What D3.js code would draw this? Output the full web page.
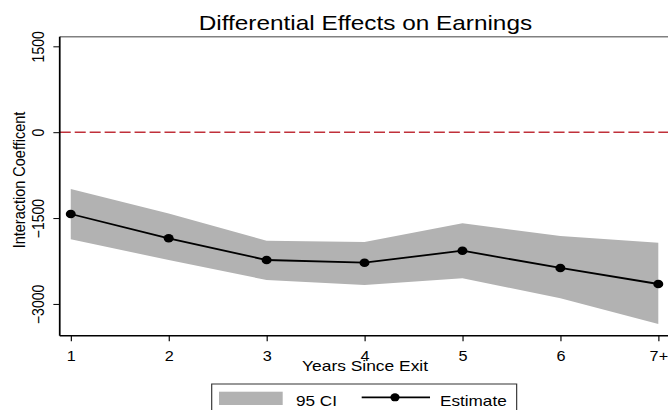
<!DOCTYPE html>
<html>
<head>
<meta charset="utf-8">
<script src="https://cdn.jsdelivr.net/npm/d3@7"></script>
<style>
  body { margin: 0; background: #fff; }
  text { font-family: "Liberation Sans", Arial, sans-serif; fill: #000; }
</style>
</head>
<body>
<script>
// data
const years = ["1", "2", "3", "4", "5", "6", "7+"];
const estimate = [-1429, -1853, -2233, -2280, -2070, -2372, -2652];
const ciUpper = [-992, -1420, -1895, -1918, -1592, -1813, -1930];
const ciLower = [-1871, -2233, -2582, -2669, -2552, -2902, -3351];
const yTicks = [1500, 0, -1500, -3000];

const width = 668, height = 410;
// the original picture is stretched sideways, so draw in narrower units and scale
const sx = 1.16;

const svg = d3.select("body").append("svg")
    .attr("width", width)
    .attr("height", height);

const g = svg.append("g").attr("transform", `scale(${sx},1)`);

const x = d3.scalePoint().domain(years).range([61, 567.5]);
const y = d3.scaleLinear().domain([-3555, 1668]).range([335.7, 36.7]);

const axisX = 51.5, right = width / sx;

// CI band
const rows = years.map((d, i) => ({ year: d, est: estimate[i], lo: ciLower[i], hi: ciUpper[i] }));
g.append("path")
    .datum(rows)
    .attr("fill", "#b2b2b2")
    .attr("d", d3.area().x(d => x(d.year)).y0(d => y(d.lo)).y1(d => y(d.hi)));

// zero line
g.append("line")
    .attr("x1", axisX).attr("x2", right)
    .attr("y1", y(0)).attr("y2", y(0))
    .attr("stroke", "#c0303a")
    .attr("stroke-width", 1.5)
    .attr("stroke-dasharray", "9.5,3.4");

// estimate line + markers
g.append("path")
    .datum(rows)
    .attr("fill", "none")
    .attr("stroke", "#000")
    .attr("stroke-width", 1.8)
    .attr("d", d3.line().x(d => x(d.year)).y(d => y(d.est)));

g.selectAll(".pt")
    .data(rows)
    .enter().append("circle")
    .attr("class", "pt")
    .attr("cx", d => x(d.year))
    .attr("cy", d => y(d.est))
    .attr("r", 4.3)
    .attr("fill", "#000");

// frame: grey top border, black left and bottom axis
g.append("line")
    .attr("x1", axisX).attr("x2", right)
    .attr("y1", y.range()[1]).attr("y2", y.range()[1])
    .attr("stroke", "#808080").attr("stroke-width", 1.5);

// y axis
const yAxis = g.append("g")
    .attr("transform", `translate(${axisX},0)`)
    .call(d3.axisLeft(y).tickValues(yTicks).tickSize(5.5).tickSizeOuter(0).tickFormat(d3.format("d")));
yAxis.select(".domain").attr("stroke", "#000").attr("stroke-width", 1.5)
    .attr("d", `M0,${y.range()[1]}V${y.range()[0]}`);
yAxis.selectAll(".tick line").attr("stroke", "#000").attr("stroke-width", 1);
yAxis.selectAll(".tick text")
    .attr("x", null).attr("dy", null)
    .attr("transform", "translate(-14,0) rotate(-90)")
    .attr("text-anchor", "middle")
    .attr("y", 0)
    .style("font-size", "14px")
    .style("font-family", "'Liberation Sans', Arial, sans-serif");

// x axis
const xAxis = g.append("g")
    .attr("transform", `translate(0,${y.range()[0]})`)
    .call(d3.axisBottom(x).tickSize(5.5).tickSizeOuter(0));
xAxis.select(".domain").attr("stroke", "#000").attr("stroke-width", 1.5)
    .attr("d", `M${axisX},0H${right}`);
xAxis.selectAll(".tick line").attr("stroke", "#000").attr("stroke-width", 1);
xAxis.selectAll(".tick text")
    .attr("dy", null)
    .attr("y", 25.3)
    .style("font-size", "14px")
    .style("font-family", "'Liberation Sans', Arial, sans-serif");

// titles
g.append("text")
    .attr("x", 315).attr("y", 30)
    .attr("text-anchor", "middle")
    .style("font-size", "21px")
    .text("Differential Effects on Earnings");

g.append("text")
    .attr("x", 314.7).attr("y", 371)
    .attr("text-anchor", "middle")
    .style("font-size", "15px")
    .text("Years Since Exit");

g.append("text")
    .attr("transform", "translate(21.5,180) rotate(-90)")
    .attr("text-anchor", "middle")
    .style("font-size", "14.5px")
    .text("Interaction Coefficent");

// legend
const leg = g.append("g");
leg.append("rect")
    .attr("x", 182.5).attr("y", 384)
    .attr("width", 445.4 - 182.5).attr("height", 40)
    .attr("fill", "#fff").attr("stroke", "#333").attr("stroke-width", 1);
leg.append("rect")
    .attr("x", 188.8).attr("y", 391.7)
    .attr("width", 54.9).attr("height", 13.3)
    .attr("fill", "#b2b2b2");
leg.append("text")
    .attr("x", 255.2).attr("y", 406)
    .style("font-size", "14.8px")
    .text("95 CI");
leg.append("line")
    .attr("x1", 311.8).attr("x2", 370.7)
    .attr("y1", 397.3).attr("y2", 397.3)
    .attr("stroke", "#000").attr("stroke-width", 1.8);
leg.append("circle")
    .attr("cx", 340.5).attr("cy", 397.3).attr("r", 4)
    .attr("fill", "#000");
leg.append("text")
    .attr("x", 379.3).attr("y", 406)
    .style("font-size", "14.8px")
    .text("Estimate");
</script>
</body>
</html>
